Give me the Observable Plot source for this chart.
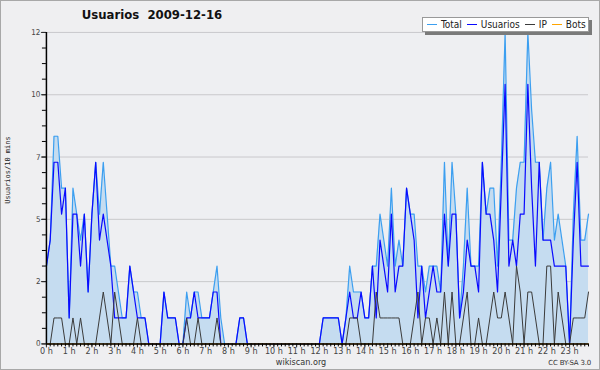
<!DOCTYPE html>
<html><head><meta charset="utf-8">
<script src="https://cdn.jsdelivr.net/npm/d3@7"></script>
<script src="https://cdn.jsdelivr.net/npm/@observablehq/plot@0.6"></script>
<style>
body{margin:0;background:#fff}
#wrap{position:relative;width:600px;height:370px;background:#efeff1;box-sizing:border-box;border:1px solid #a8a8a8;overflow:hidden;font-family:"DejaVu Sans Condensed","DejaVu Sans",sans-serif}
#chart{position:absolute;left:-1px;top:-1px}
#title{position:absolute;left:0;width:302px;top:6px;text-align:center;font-weight:bold;font-size:13px;color:#111;white-space:pre}
#ylab{position:absolute;left:7px;top:169px;transform:translate(-50%,-50%) rotate(-90deg);font-family:"DejaVu Sans Mono",monospace;font-size:7px;color:#222;white-space:nowrap}
#legend{position:absolute;left:421px;top:16px;width:167px;height:15px;background:#fff;border:1px solid #999;box-shadow:3px 3px 0 #7a7a7a;display:flex;align-items:center;font-size:10px;color:#222;box-sizing:border-box;padding-left:4px}
#legend span.sw{display:inline-block;width:10px;height:1px;margin-right:4px;vertical-align:middle}
#legend .it{margin-right:5px;white-space:nowrap;display:flex;align-items:center}
#foot{position:absolute;left:0;width:600px;top:356px;text-align:center;font-size:9px;color:#333;white-space:nowrap}
#cc{position:absolute;left:540px;width:50px;top:358px;text-align:right;font-family:"DejaVu Sans",sans-serif;font-size:7px;letter-spacing:-0.2px;color:#333;white-space:nowrap}
</style></head><body>
<div id="wrap">
 <div id="chart"></div>
 <div id="title"></div>
 <div id="ylab"></div>
 <div id="legend"></div>
 <div id="foot"></div>
 <div id="cc"></div>
</div>
<script>
const titleText = "Usuarios  2009-12-16";
const yAxisLabel = "Usuarios/10 mins";
const seriesNames = ["Total", "Usuarios", "IP", "Bots"];
const seriesColors = ["#3c9ff0", "#0a0aff", "#3a3a3a", "#ffa500"];
const hourLabels = ["0 h","1 h","2 h","3 h","4 h","5 h","6 h","7 h","8 h","9 h","10 h","11 h","12 h","13 h","14 h","15 h","16 h","17 h","18 h","19 h","20 h","21 h","22 h","23 h"];
const yTicks = [0, 2.4, 4.8, 7.2, 9.6, 12];
const yTickLabels = ["0","2","5","7","10","12"];

// one value per 10 minutes, 00:00 .. 23:50
const total = [
 3,4,8,8,6,6,1,6,5,4,5,2,5,7,5,7,5,3,3,2,1,1,3,2,
 2,1,1,0,0,0,0,2,1,1,1,0,0,2,1,2,2,1,1,1,2,3,1,0,
 0,0,0,1,1,0,0,0,0,0,0,0,0,0,0,0,0,0,0,0,0,0,0,0,
 0,1,1,1,1,1,0,1,3,2,2,2,1,1,3,3,5,4,3,6,3,4,3,6,
 5,5,3,3,2,3,3,3,2,7,3,7,5,1,3,6,3,3,3,7,5,6,6,3,
 7,12,4,4,6,7,7,12,9,7,7,4,6,7,4,5,4,3,0,5,8,4,4,5];
const usuarios = [
 3,4,7,7,5,6,1,5,5,3,5,2,5,7,4,5,4,3,1,1,1,1,3,2,
 1,1,1,0,0,0,0,2,1,1,1,0,0,1,1,2,1,1,1,1,2,2,0,0,
 0,0,0,1,1,0,0,0,0,0,0,0,0,0,0,0,0,0,0,0,0,0,0,0,
 0,1,1,1,1,1,0,1,2,1,1,2,1,1,3,1,4,3,2,5,2,3,3,6,
 5,4,1,3,1,2,3,2,2,5,3,5,5,1,2,4,3,3,2,7,5,5,4,2,
 6,10,3,4,3,5,5,10,6,3,7,4,4,4,3,3,3,3,0,4,7,3,3,3];
const ip = [
 0,0,1,1,1,0,0,1,0,1,0,0,0,0,1,2,1,0,2,1,0,0,0,0,
 1,0,0,0,0,0,0,0,0,0,0,0,0,1,0,0,1,0,0,0,0,1,0,0,
 0,0,0,0,0,0,0,0,0,0,0,0,0,0,0,0,0,0,0,0,0,0,0,0,
 0,0,0,0,0,0,0,0,1,1,1,0,0,0,0,2,1,1,1,1,1,1,0,0,
 0,1,2,0,1,1,0,1,0,2,0,2,0,0,1,2,0,0,1,0,0,1,2,1,
 1,2,1,0,3,2,0,2,2,1,0,0,3,3,0,2,1,0,0,1,1,1,1,2];
const bots = [
 0,0,0,0,0,0,0,0,0,0,0,0,0,0,0,0,0,0,0,0,0,0,0,0,
 0,0,0,0,0,0,0,0,0,0,0,0,0,0,0,0,0,0,0,0,0,0,0,0,
 0,0,0,0,0,0,0,0,0,0,0,0,0,0,0,0,0,0,0,0,0,0,0,0,
 0,0,0,0,0,0,0,0,0,0,0,0,0,0,0,0,0,0,0,0,0,0,0,0,
 0,0,0,0,0,0,0,0,0,0,0,0,0,0,0,0,0,0,0,0,0,0,0,0,
 0,0,0,0,0,0,0,0,0,0,0,0,0,0,0,0,0,0,0,0,0,0,0,0];
const footerText = "wikiscan.org";
const licenseText = "CC BY-SA 3.0";

const data = total.map((t, i) => ({i, total: t, usuarios: usuarios[i], ip: ip[i], bots: bots[i]}));
const stepsPerHour = 6;
const hourTicks = hourLabels.map((_, h) => h * stepsPerHour);
const minorX = d3.range(0, total.length);
const minorY = d3.range(0, 12.0001, 0.6);

const chart = Plot.plot({
  width: 600, height: 370,
  marginLeft: 46, marginRight: 11, marginTop: 32, marginBottom: 26,
  style: {background: "transparent", fontFamily: '"DejaVu Sans Condensed","DejaVu Sans",sans-serif', fontSize: "9px", color: "#333"},
  x: {domain: [0, total.length - 1], axis: null, label: null},
  y: {domain: [0, 12], axis: null, label: null},
  marks: [
    Plot.frame({fill: "#eeeff2", stroke: null}),
    Plot.ruleY(yTicks.slice(1), {stroke: "#c9c9cc", strokeWidth: 1}),
    Plot.areaY(data, {x: "i", y: "total", fill: "#c5dcf0"}),
    Plot.lineY(data, {x: "i", y: "total", stroke: seriesColors[0], strokeWidth: 1.2}),
    Plot.lineY(data, {x: "i", y: "usuarios", stroke: seriesColors[1], strokeWidth: 1.2}),
    Plot.lineY(data, {x: "i", y: "ip", stroke: seriesColors[2], strokeWidth: 1}),
    Plot.lineY(data, {x: "i", y: "bots", stroke: seriesColors[3], strokeWidth: 1}),
    Plot.axisY({ticks: minorY, tickSize: 4, tickFormat: () => "", stroke: "#000", label: null}),
    Plot.axisY({ticks: yTicks, tickSize: 5, tickPadding: 1, tickFormat: d => yTickLabels[yTicks.indexOf(d)], fill: "#444", fontSize: 8, label: null}),
    Plot.axisX({ticks: minorX, tickSize: 3, tickFormat: () => "", stroke: "#000", label: null}),
    Plot.axisX({ticks: hourTicks, tickSize: 4, tickPadding: 0, tickFormat: d => hourLabels[hourTicks.indexOf(d)], fill: "#444", fontSize: 9, label: null}),
    Plot.ruleX([0], {stroke: "#000", strokeWidth: 1.5}),
    Plot.ruleY([0], {stroke: "#000", strokeWidth: 1.5})
  ]
});
document.getElementById("chart").appendChild(chart);
document.getElementById("title").textContent = titleText;
document.getElementById("ylab").textContent = yAxisLabel;
document.getElementById("foot").textContent = footerText;
document.getElementById("cc").textContent = licenseText;
const lg = document.getElementById("legend");
seriesNames.forEach((n, k) => {
  const it = document.createElement("span");
  it.className = "it";
  const sw = document.createElement("span");
  sw.className = "sw";
  sw.style.background = seriesColors[k];
  it.appendChild(sw);
  it.appendChild(document.createTextNode(n));
  lg.appendChild(it);
});
</script>
</body></html>
